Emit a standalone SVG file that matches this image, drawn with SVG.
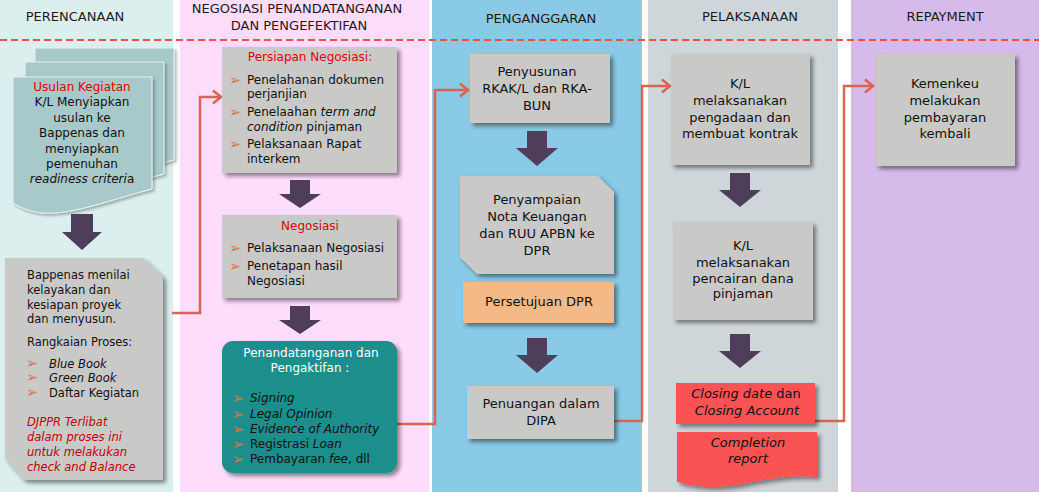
<svg xmlns="http://www.w3.org/2000/svg" width="1039" height="492" viewBox="0 0 1039 492">
<style>
text{font-family:"DejaVu Sans","Liberation Sans",sans-serif;fill:#111}
.h{font-size:13px;text-anchor:middle;fill:#1a1a1a}
.c{text-anchor:middle}
.f13{font-size:13px}
.f12{font-size:12px}
.f11{font-size:11.5px}
.red{fill:#e00000}
.dred{fill:#c00000}
.wh{fill:#ffffff}
.it{font-style:italic}
.bul{fill:#e0704c;font-size:14.5px}
.box{fill:#c9cac8;filter:url(#sh)}
.dn{fill:#4f3e5b}
.con{fill:none;stroke:#d9644f;stroke-width:2.5;marker-end:url(#ah)}
.pg{fill:#a8c9c9;stroke:#e6f2f2;stroke-width:1;filter:url(#sh2)}
</style>
<defs>
<filter id="sh" x="-10%" y="-10%" width="130%" height="130%"><feDropShadow dx="3" dy="3" stdDeviation="2" flood-color="#000" flood-opacity="0.45"/></filter>
<filter id="sh2" x="-10%" y="-10%" width="130%" height="130%"><feDropShadow dx="2" dy="2" stdDeviation="1.5" flood-color="#000" flood-opacity="0.3"/></filter>
<marker id="ah" markerUnits="userSpaceOnUse" markerWidth="14" markerHeight="16" refX="10" refY="8" orient="auto"><path d="M2,1.5 L10,8 L2,14.5" fill="none" stroke="#d9644f" stroke-width="2.5"/></marker>
<path id="pgp" d="M0,0 H139 V112 C100,122 60,138 30,136 C18,135 8,131 0,126 Z"/>
</defs>

<g id="lanes">
<rect x="0" y="0" width="173" height="492" fill="#dcefef"/>
<rect x="180" y="0" width="249" height="492" fill="#fddcfc"/>
<rect x="432" y="0" width="210" height="492" fill="#89cae6"/>
<rect x="648" y="0" width="190" height="492" fill="#cfd6da"/>
<rect x="851" y="0" width="188" height="492" fill="#d6bae9"/>
<text class="h" x="75" y="21">PERENCANAAN</text>
<text class="h" x="297" y="13">NEGOSIASI PENANDATANGANAN</text>
<text class="h" x="299" y="30">DAN PENGEFEKTIFAN</text>
<text class="h" x="541" y="23">PENGANGGARAN</text>
<text class="h" x="750" y="21">PELAKSANAAN</text>
<text class="h" x="945" y="21">REPAYMENT</text>
<line x1="0" y1="40" x2="1039" y2="40" stroke="#e9524d" stroke-width="2" stroke-dasharray="7,4"/>
</g>

<g id="connectors">
<path class="con" d="M172,313 H200 V97 H221"/>
<path class="con" d="M397,424 H435 V90 H468"/>
<path class="con" d="M614,421 H642 V86 H670"/>
<path class="con" d="M815,421 H844 V86 H873"/>
<polygon class="dn" points="71,214 93,214 93,232 102,232 82,250 62,232 71,232"/>
<polygon class="dn" points="290,180 310,180 310,194 321,194 300,208 279,194 290,194"/>
<polygon class="dn" points="290,306 310,306 310,320 321,320 300,334 279,320 290,320"/>
<polygon class="dn" points="527,131 547,131 547,148 558,148 537,166 516,148 527,148"/>
<polygon class="dn" points="527,338 547,338 547,355 558,355 537,373 516,355 527,355"/>
<polygon class="dn" points="730,173 750,173 750,190 761,190 740,207 719,190 730,190"/>
<polygon class="dn" points="730,334 750,334 750,351 761,351 740,368 719,351 730,351"/>
</g>

<g id="usulan">
<use href="#pgp" class="pg" transform="translate(35,48)"/>
<use href="#pgp" class="pg" transform="translate(25,62)"/>
<use href="#pgp" class="pg" transform="translate(13,77)"/>
<text class="f12 c red" x="82" y="91">Usulan Kegiatan</text>
<text class="f12 c" x="82" y="106">K/L Menyiapkan</text>
<text class="f12 c" x="82" y="122">usulan ke</text>
<text class="f12 c" x="82" y="137">Bappenas dan</text>
<text class="f12 c" x="82" y="153">menyiapkan</text>
<text class="f12 c" x="82" y="168">pemenuhan</text>
<text class="f12 c" x="82" y="183"><tspan class="it">readiness criteri</tspan>a</text>
</g>

<g id="bappenas">
<path class="box" d="M5,258 H143 L163,277 V480 H24 L5,458 Z"/>
<text class="f11" x="27" y="279">Bappenas menilai</text>
<text class="f11" x="27" y="294">kelayakan dan</text>
<text class="f11" x="27" y="309">kesiapan proyek</text>
<text class="f11" x="27" y="323">dan menyusun.</text>
<text class="f11" x="27" y="346">Rangkaian Proses:</text>
<text class="bul" x="26" y="368">➢</text>
<text class="bul" x="26" y="382">➢</text>
<text class="bul" x="26" y="397">➢</text>
<text class="f11 it" x="49" y="368">Blue Book</text>
<text class="f11 it" x="49" y="382">Green Book</text>
<text class="f11" x="49" y="397">Daftar Kegiatan</text>
<text class="f11 it dred" x="27" y="426">DJPPR Terlibat</text>
<text class="f11 it dred" x="27" y="441">dalam proses ini</text>
<text class="f11 it dred" x="27" y="456">untuk melakukan</text>
<text class="f11 it dred" x="27" y="471">check and Balance</text>
</g>

<g id="persiapan">
<rect class="box" x="222" y="47" width="175" height="126"/>
<text class="f12 c red" x="310" y="61">Persiapan Negosiasi:</text>
<text class="bul" x="229" y="85">➢</text>
<text class="bul" x="229" y="117">➢</text>
<text class="bul" x="229" y="149">➢</text>
<text class="f12" x="247" y="84">Penelahanan dokumen</text>
<text class="f12" x="247" y="98">perjanjian</text>
<text class="f12" x="247" y="116">Penelaahan <tspan class="it">term and</tspan></text>
<text class="f12" x="247" y="131"><tspan class="it">condition</tspan> pinjaman</text>
<text class="f12" x="247" y="148">Pelaksanaan Rapat</text>
<text class="f12" x="247" y="163">interkem</text>
</g>

<g id="negosiasi">
<rect class="box" x="222" y="215" width="175" height="83"/>
<text class="f12 c red" x="310" y="230">Negosiasi</text>
<text class="bul" x="229" y="253">➢</text>
<text class="bul" x="229" y="271">➢</text>
<text class="f12" x="247" y="252">Pelaksanaan Negosiasi</text>
<text class="f12" x="247" y="270">Penetapan hasil</text>
<text class="f12" x="247" y="285">Negosiasi</text>
</g>

<g id="penandatanganan">
<rect class="box" x="222" y="341" width="175" height="132" rx="11" style="fill:#1f8e8b"/>
<text class="f12 c wh" x="311" y="357">Penandatanganan dan</text>
<text class="f12 c wh" x="310" y="372">Pengaktifan :</text>
<text class="bul" x="232" y="403">➢</text>
<text class="bul" x="232" y="419">➢</text>
<text class="bul" x="232" y="434">➢</text>
<text class="bul" x="232" y="449">➢</text>
<text class="bul" x="232" y="464">➢</text>
<text class="f12 it" x="250" y="402">Signing</text>
<text class="f12 it" x="250" y="418">Legal Opinion</text>
<text class="f12 it" x="250" y="433">Evidence of Authority</text>
<text class="f12" x="250" y="448">Registrasi <tspan class="it">Loan</tspan></text>
<text class="f12" x="250" y="463">Pembayaran <tspan class="it">fee</tspan>, dll</text>
</g>

<g id="penyusunan">
<rect class="box" x="470" y="54" width="140" height="69"/>
<text class="f13 c" x="537" y="76">Penyusunan</text>
<text class="f13 c" x="537" y="93">RKAK/L dan RKA-</text>
<text class="f13 c" x="537" y="110">BUN</text>
</g>

<g id="penyampaian">
<path class="box" d="M460,176 H598 L614,192 V274 H477 L460,257 Z"/>
<text class="f13 c" x="537" y="204">Penyampaian</text>
<text class="f13 c" x="537" y="221">Nota Keuangan</text>
<text class="f13 c" x="537" y="238">dan RUU APBN ke</text>
<text class="f13 c" x="537" y="255">DPR</text>
</g>

<g id="persetujuan">
<rect class="box" x="463" y="282" width="151" height="41" style="fill:#f3b987"/>
<text class="f13 c" x="539" y="306">Persetujuan DPR</text>
</g>

<g id="penuangan">
<rect class="box" x="467" y="386" width="147" height="53"/>
<text class="f13 c" x="541" y="408">Penuangan dalam</text>
<text class="f13 c" x="541" y="425">DIPA</text>
</g>

<g id="pengadaan">
<rect class="box" x="671" y="54" width="139" height="111"/>
<text class="f13 c" x="740" y="88">K/L</text>
<text class="f13 c" x="740" y="105">melaksanakan</text>
<text class="f13 c" x="740" y="122">pengadaan dan</text>
<text class="f13 c" x="740" y="138">membuat kontrak</text>
</g>

<g id="pencairan">
<rect class="box" x="673" y="222" width="140" height="98"/>
<text class="f13 c" x="743" y="250">K/L</text>
<text class="f13 c" x="743" y="267">melaksanakan</text>
<text class="f13 c" x="743" y="283">pencairan dana</text>
<text class="f13 c" x="743" y="298">pinjaman</text>
</g>

<g id="closing">
<rect class="box" x="676" y="383" width="139" height="41" style="fill:#fb5252"/>
<text class="f13 c" x="746" y="398"><tspan class="it">Closing date</tspan> dan</text>
<text class="f13 c it" x="747" y="415">Closing Account</text>
</g>

<g id="completion">
<path class="box" d="M677,432 H817 V477 C790,474 765,480 742,484 C715,489 695,487 677,482 Z" style="fill:#fb5252"/>
<text class="f13 c it" x="748" y="447">Completion</text>
<text class="f13 c it" x="748" y="463">report</text>
</g>

<g id="kemenkeu">
<rect class="box" x="876" y="54" width="139" height="112"/>
<text class="f13 c" x="945" y="88">Kemenkeu</text>
<text class="f13 c" x="945" y="105">melakukan</text>
<text class="f13 c" x="945" y="122">pembayaran</text>
<text class="f13 c" x="945" y="138">kembali</text>
</g>
</svg>
